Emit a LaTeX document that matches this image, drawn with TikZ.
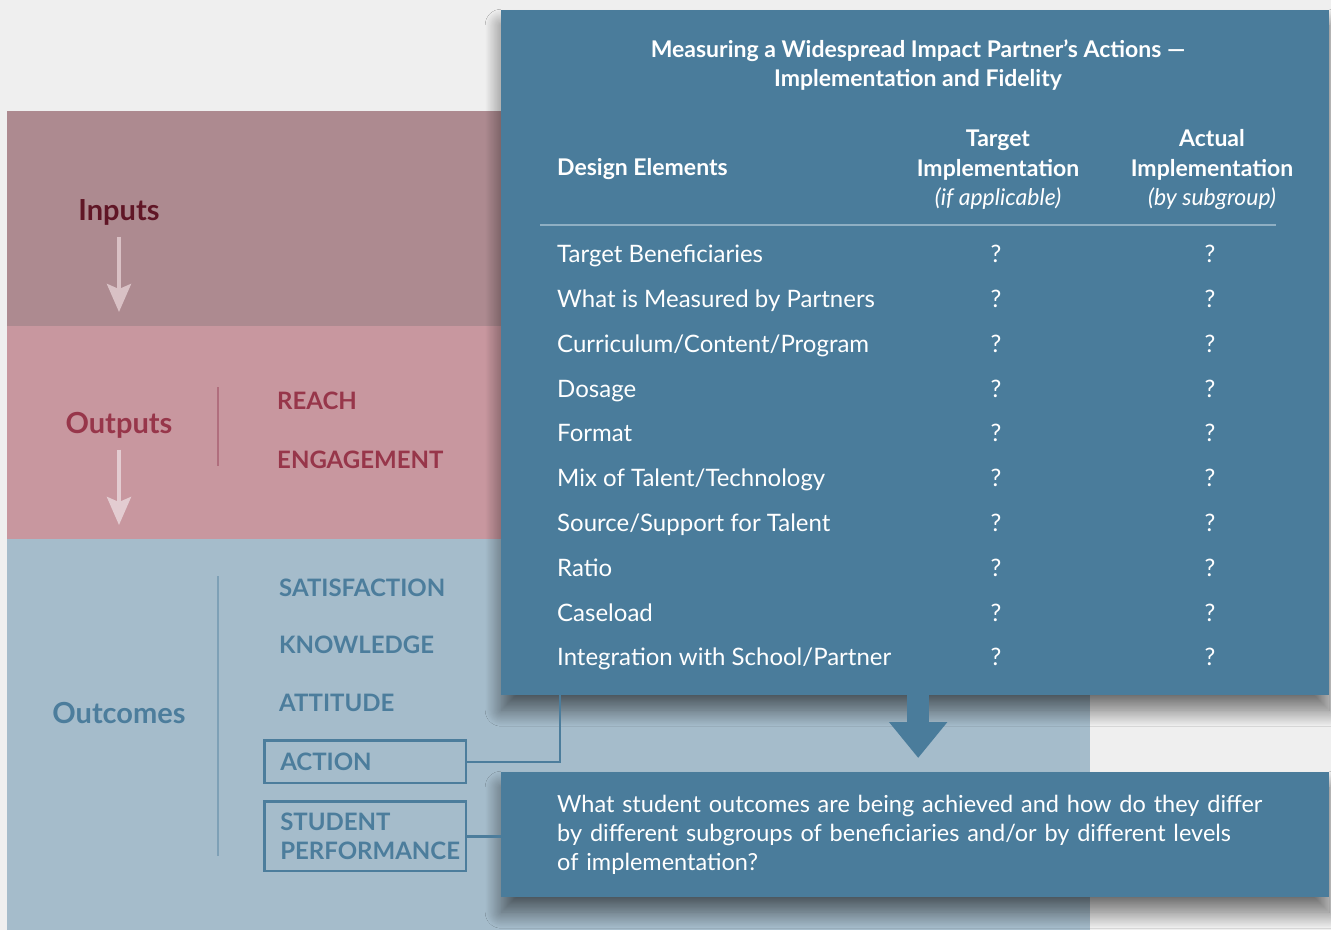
\documentclass[tikz,border=0pt]{standalone}
\usepackage{fontspec}
\setmainfont{Lato}
\usepackage{tikz}
\usetikzlibrary{positioning}
\usetikzlibrary{arrows.meta}
\usetikzlibrary{shadows.blur}
\definecolor{bgGray}{HTML}{EFEFEF}
\definecolor{inBand}{HTML}{AD8A90}
\definecolor{outBand}{HTML}{C8979F}
\definecolor{ocBand}{HTML}{A5BCCB}
\definecolor{panelBlue}{HTML}{4A7C9B}
\definecolor{inText}{HTML}{601626}
\definecolor{outText}{HTML}{97364A}
\definecolor{ocText}{HTML}{4C7D9C}
\definecolor{inArrow}{HTML}{D9C1C5}
\definecolor{outArrow}{HTML}{E3CCD1}
\definecolor{outDiv}{HTML}{B06E7D}
\definecolor{ocDiv}{HTML}{7EA0B6}
\definecolor{ruleBlue}{HTML}{8FAFC3}

\begin{document}
\begin{tikzpicture}[x=1pt,y=-1pt,
              stage/.style={inner sep=0,text height=21pt,text depth=0pt,font=\bfseries\fontsize{29}{34}\selectfont},
              item/.style={inner sep=0,anchor=west,font=\bfseries\fontsize{24}{29}\selectfont},
              itembox/.style={item,text=ocText,draw=ocText,line width=2.5pt,anchor=north west,
                text width=170pt,inner xsep=15.75pt,inner ysep=0pt,align=left},
              panel/.style={fill=panelBlue,anchor=north west,minimum width=828pt,
                blur shadow={shadow xshift=0pt,shadow yshift=-15pt,shadow blur radius=16pt,
                  shadow blur steps=30,shadow opacity=55}},
              head/.style={inner sep=0,text=white,align=center,font=\bfseries\fontsize{23}{29.5}\selectfont},
              cell/.style={inner sep=0,text=white,text height=17.3pt,text depth=0pt,font=\fontsize{24}{29}\selectfont},
              link/.style={draw=ocText,line width=2.5pt},
              downarrow/.style={-{Stealth[width=24pt,length=28pt,inset=5pt]},line width=4pt}]
  \fill[bgGray] (0,0) rectangle (1331,930);
  \useasboundingbox (0,0) rectangle (1331,930);
  \fill[inBand] (7,111) rectangle (510,326);
  \fill[outBand] (7,326) rectangle (510,539);
  \fill[ocBand] (7,539) rectangle (1090,930);

  \node[panel,minimum height=685pt] (actions) at (501,10) {};
  \node[panel,minimum height=125pt,text width=716pt,inner xsep=56pt,align=left,text=white,
        font=\fontsize{23.5}{29}\selectfont] (question) at (501,772)
        {What student outcomes are being achieved and how do they differ\\
         by different subgroups of beneficiaries and/or by different levels\\
         of implementation?};

  \node[stage,text=inText] (inputs) at (119,210) {Inputs};
  \node[stage,text=outText] (outputs) at (119,423) {Outputs};
  \node[stage,text=ocText] (outcomes) at (119,713) {Outcomes};
  \coordinate (intip) at (119,312);
  \coordinate (outtip) at (119,525);
  \draw[downarrow,inArrow] ([yshift=-16pt]inputs.south) -- (intip);
  \draw[downarrow,outArrow] ([yshift=-16pt]outputs.south) -- (outtip);
  \draw[outDiv,line width=2pt] (218,387) -- (218,466);
  \draw[ocDiv,line width=2pt] (218,576) -- (218,856);

  \node[item,text=outText] (reach) at (277,401) {REACH};
  \node[item,text=outText,below=59pt of reach.west,anchor=west] (engage) {ENGAGEMENT};
  \node[item,text=ocText] (satisf) at (279,588) {SATISFACTION};
  \node[item,text=ocText,below=57pt of satisf.west,anchor=west] (knowl) {KNOWLEDGE};
  \node[item,text=ocText,below=58pt of knowl.west,anchor=west] (attit) {ATTITUDE};
  \node[itembox,minimum height=42.5pt] (action) at (263.25,739.25) {ACTION};
  \node[itembox,minimum height=69.5pt] (perf) at (263.25,800.25) {STUDENT\\PERFORMANCE};
  \draw[link] (action.east) -| ([xshift=59pt]actions.south west);
  \draw[link] (perf.east) -- (perf.east -| question.west);
  \draw[panelBlue,line width=22pt,-{Triangle[width=56pt,length=36pt]},shorten >=14pt]
    ([xshift=3pt]actions.south) -- ([xshift=3pt]question.north);

  \node[head] (title) at (918,65) {Measuring a Widespread Impact Partner’s Actions ---\\Implementation and Fidelity};
  \node[head,anchor=west,text height=16.5pt,text depth=0pt] (design) at (557,167) {Design Elements};
  \node[head] (target) at (998,170) {Target\\Implementation\\{\mdseries\itshape (if applicable)}};
  \node[head] (actual) at (1212,170) {Actual\\Implementation\\{\mdseries\itshape (by subgroup)}};
  \draw[ruleBlue,line width=1.5pt] (540,225) -- (1276,225);
  \foreach \name [count=\i from 0] in {Target Beneficiaries,What is Measured by Partners,
      Curriculum/Content/Program,Dosage,Format,Mix of Talent/Technology,
      Source/Support for Talent,Ratio,Caseload,Integration with School/Partner} {
    \node[cell,anchor=west] (el\i) at (557,254+44.8*\i) {\name};
    \node[cell] (tq\i) at (996,254+44.8*\i) {?};
    \node[cell] (aq\i) at (1210,254+44.8*\i) {?};
  }
\end{tikzpicture}
\end{document}
